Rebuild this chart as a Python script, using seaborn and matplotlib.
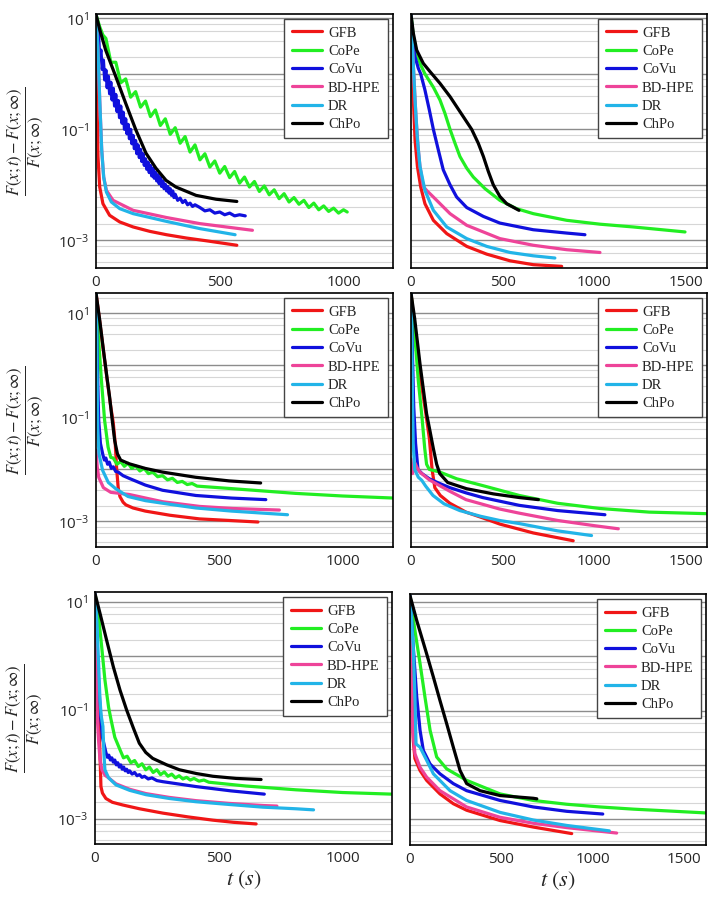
import matplotlib
matplotlib.use("Agg")
import matplotlib.pyplot as plt
import pandas as pd
import seaborn as sns
from matplotlib.lines import Line2D
from matplotlib.ticker import LogLocator, NullFormatter

sns.set_style("white")
plt.rcParams["font.family"] = ["Open Sans", "DejaVu Sans"]
plt.rcParams["mathtext.fontset"] = "stix"

methods = ["GFB", "CoPe", "CoVu", "BD-HPE", "DR", "ChPo"]
colors = ["#f01616", "#22ee22", "#1010dd", "#ee4499", "#22b4e8", "#000000"]

# values are log10 of the relative error, t in seconds
# ---- panel A (top left)
a_gfb_t = [0, 4, 8, 15, 28, 55, 96, 150, 218, 285, 366, 447, 569]
a_gfb_y = [1.07, -0.47, -1.49, -2.04, -2.34, -2.55, -2.67, -2.76, -2.84, -2.90, -2.96, -3.01, -3.09]
a_cope_t = [0, 15, 28] + list(range(40, 1001, 20)) + [1015]
a_cope_y = [1.07, 0.85, 0.70,
            0.64, 0.21, 0.21, -0.16, -0.09, -0.42, -0.32, -0.60, -0.49, -0.77,
            -0.65, -0.93, -0.81, -1.09, -0.97, -1.25, -1.13, -1.41, -1.28, -1.55,
            -1.44, -1.68, -1.57, -1.79, -1.67, -1.87, -1.76, -1.97, -1.86, -2.04,
            -1.94, -2.12, -2.02, -2.18, -2.09, -2.25, -2.16, -2.31, -2.23, -2.35,
            -2.28, -2.41, -2.33, -2.45, -2.38, -2.48, -2.42, -2.51, -2.45,
            -2.49]
a_covu_t = [0] + list(range(10, 321, 5)) + list(range(330, 401, 10)) + list(range(420, 581, 20)) + [603]
a_covu_y = [1.07,
            0.73, 0.32, 0.43, 0.08, 0.25, -0.11, 0.07, -0.25, -0.04, -0.36,
            -0.15, -0.47, -0.26, -0.58, -0.37, -0.68, -0.48, -0.79, -0.58, -0.89,
            -0.69, -1.00, -0.81, -1.08, -0.91, -1.17, -1.00, -1.26, -1.11, -1.35,
            -1.20, -1.44, -1.28, -1.51, -1.36, -1.58, -1.44, -1.65, -1.53, -1.72,
            -1.59, -1.78, -1.65, -1.84, -1.70, -1.88, -1.77, -1.93, -1.82, -1.98,
            -1.87, -2.03, -1.93, -2.07, -1.99, -2.11, -2.03, -2.15, -2.07, -2.19,
            -2.11, -2.23, -2.17,
            -2.28, -2.24, -2.32, -2.28, -2.36, -2.33, -2.39, -2.36,
            -2.41, -2.47, -2.45, -2.51, -2.49, -2.54, -2.51, -2.56, -2.54,
            -2.56]
a_bdhpe_t = [0, 8, 15, 23, 31, 42, 69, 150, 285, 420, 632]
a_bdhpe_y = [1.07, 0.43, -0.47, -1.37, -1.86, -2.10, -2.28, -2.46, -2.59, -2.70, -2.82]
a_dr_t = [0, 8, 15, 23, 31, 42, 62, 96, 150, 218, 285, 420, 562]
a_dr_y = [1.07, 0.43, -0.47, -1.37, -1.86, -2.13, -2.31, -2.43, -2.52, -2.59, -2.66, -2.79, -2.90]
a_chpo_t = [0, 15, 39, 80, 120, 161, 202, 242, 283, 323, 404, 485, 569]
a_chpo_y = [1.07, 0.80, 0.43, -0.05, -0.53, -1.01, -1.43, -1.70, -1.92, -2.04, -2.19, -2.26, -2.30]

# ---- panel B (top right)
b_gfb_t = [0, 5, 13, 22, 35, 53, 76, 122, 195, 304, 413, 540, 667, 822]
b_gfb_y = [1.07, 0.43, -0.47, -1.19, -1.67, -2.04, -2.34, -2.64, -2.88, -3.11, -3.25, -3.37, -3.44, -3.47]
b_cope_t = [0, 13, 31, 53, 76, 122, 158, 185, 213, 240, 267, 304, 340, 404, 485, 576, 667, 849, 1031, 1213, 1495]
b_cope_y = [1.07, 0.67, 0.37, 0.16, 0.0, -0.24, -0.47, -0.71, -1.0, -1.25, -1.49, -1.70, -1.86, -2.07,
            -2.28, -2.43, -2.52, -2.64, -2.71, -2.76, -2.85]
b_covu_t = [0, 9, 22, 40, 53, 76, 100, 122, 149, 176, 213, 249, 304, 395, 485, 667, 849, 949]
b_covu_y = [1.07, 0.61, 0.31, 0.10, 0.0, -0.29, -0.65, -1.0, -1.37, -1.73, -2.0, -2.22, -2.41, -2.57,
            -2.69, -2.81, -2.87, -2.90]
b_bdhpe_t = [0, 13, 27, 40, 49, 67, 85, 122, 213, 304, 485, 667, 849, 1031]
b_bdhpe_y = [1.07, 0.13, -0.77, -1.37, -1.67, -2.03, -2.10, -2.22, -2.52, -2.73, -2.97, -3.09, -3.17, -3.22]
b_dr_t = [0, 9, 22, 35, 49, 76, 122, 195, 304, 413, 540, 667, 785]
b_dr_y = [1.07, 0.43, -0.47, -1.19, -1.67, -2.10, -2.46, -2.76, -2.97, -3.11, -3.22, -3.28, -3.32]
b_chpo_t = [0, 13, 31, 67, 104, 158, 213, 267, 331, 367, 395, 422, 449, 485, 522, 589]
b_chpo_y = [1.07, 0.73, 0.43, 0.19, 0.04, -0.17, -0.41, -0.68, -1.0, -1.25, -1.49, -1.76, -2.0, -2.21, -2.34, -2.46]

# ---- panel C (middle left)
c_gfb_t = [0, 15, 30, 45, 60, 70, 78, 84, 90, 97, 110, 121, 150, 200, 300, 420, 540, 657]
c_gfb_y = [1.39, 0.85, 0.28, -0.27, -0.80, -1.10, -1.5, -2.0, -2.35, -2.52, -2.63, -2.68, -2.74, -2.80, -2.88, -2.95, -2.98, -3.01]
c_cope_t = [0, 8, 22, 35, 49, 60,
            70, 85, 100, 115, 130, 145, 160, 178, 195, 213, 230, 250, 270, 290,
            310, 330, 350, 370, 390, 410,
            555, 810, 1000, 1210]
c_cope_y = [1.39, 0.67, -0.29, -1.06, -1.57, -1.77,
            -1.78, -1.90, -1.85, -1.94, -1.88, -1.98, -1.93, -2.03, -1.98, -2.08,
            -2.05, -2.14, -2.12, -2.20, -2.17, -2.25, -2.23, -2.29, -2.27, -2.32,
            -2.37, -2.46, -2.51, -2.55]
c_covu_t = [0, 4, 8, 11, 18, 28, 34, 40, 47, 54, 62, 70, 80, 90, 110, 134, 200, 270, 405, 550, 689]
c_covu_y = [1.39, 0.35, -0.5, -1.06, -1.5, -1.72, -1.82, -1.78, -1.90, -1.86, -1.98, -1.95, -2.04, -2.05,
            -2.12, -2.17, -2.30, -2.40, -2.50, -2.55, -2.58]
c_bdhpe_t = [0, 5, 11, 30, 60, 134, 270, 420, 555, 744]
c_bdhpe_y = [-1.63, -1.95, -2.15, -2.35, -2.44, -2.48, -2.62, -2.71, -2.75, -2.78]
c_dr_t = [0, 3, 5, 7, 12, 27, 50, 80, 130, 201, 300, 405, 550, 777]
c_dr_y = [1.39, 0.5, -0.5, -1.2, -1.7, -2.02, -2.25, -2.37, -2.52, -2.60, -2.67, -2.74, -2.80, -2.87]
c_chpo_t = [0, 15, 30, 45, 55, 66, 76, 87, 100, 134, 200, 269, 404, 540, 668]
c_chpo_y = [1.39, 0.87, 0.30, -0.25, -0.60, -1.06, -1.45, -1.70, -1.82, -1.89, -1.98, -2.05, -2.15, -2.22, -2.26]

# ---- panel D (middle right)
d_gfb_t = [0, 20, 50, 80, 100, 115, 130, 160, 212, 300, 391, 485, 667, 885]
d_gfb_y = [1.39, 0.7, -0.2, -0.9, -1.4, -2.0, -2.35, -2.5, -2.65, -2.82, -2.93, -3.05, -3.22, -3.37]
d_cope_t = [0, 20, 40, 60, 75, 85, 100, 157, 250, 391, 591, 800, 1031, 1300, 1616]
d_cope_y = [1.39, 0.6, -0.3, -1.0, -1.6, -1.9, -2.0, -2.05, -2.18, -2.31, -2.50, -2.65, -2.75, -2.82, -2.85]
d_covu_t = [0, 8, 15, 25, 38, 60, 100, 150, 212, 300, 391, 591, 800, 1058]
d_covu_y = [1.39, 0.2, -0.8, -1.5, -2.0, -2.08, -2.18, -2.26, -2.35, -2.45, -2.54, -2.69, -2.79, -2.87]
d_bdhpe_t = [0, 8, 15, 22, 35, 49, 100, 212, 300, 483, 591, 800, 1000, 1131]
d_bdhpe_y = [-1.80, -2.08, -2.0, -1.88, -1.98, -2.05, -2.2, -2.42, -2.58, -2.76, -2.84, -2.98, -3.08, -3.14]
d_dr_t = [0, 3, 6, 9, 12, 20, 40, 59, 80, 120, 180, 266, 380, 483, 591, 800, 985]
d_dr_y = [1.39, 0.8, 0.0, -0.8, -1.5, -2.0, -2.15, -2.21, -2.32, -2.50, -2.66, -2.79, -2.90, -2.98, -3.04, -3.18, -3.27]
d_chpo_t = [0, 20, 49, 85, 103, 122, 140, 157, 200, 303, 450, 591, 695]
d_chpo_y = [1.39, 0.9, 0.03, -0.93, -1.25, -1.6, -1.9, -2.08, -2.25, -2.37, -2.47, -2.54, -2.58]

# ---- panel E (bottom left)
e_gfb_t = [0, 4, 8, 12, 17, 20, 24, 30, 44, 70, 112, 180, 274, 376, 476, 560, 651]
e_gfb_y = [1.15, 0.5, -0.2, -0.7, -1.18, -1.8, -2.41, -2.53, -2.63, -2.70, -2.75, -2.82, -2.90, -2.97, -3.03, -3.07, -3.10]
e_cope_t = [0, 13, 27, 40, 55, 65, 80] + list(range(100, 401, 15)) + [420, 440, 460, 610, 812, 1000, 1200]
e_cope_y = [1.15, 0.79, 0.17, -0.44, -0.95, -1.18, -1.5,
            -1.72, -1.88, -1.85, -1.97, -1.93, -2.04, -1.99, -2.10, -2.05, -2.15,
            -2.10, -2.19, -2.14, -2.22, -2.18, -2.25, -2.21, -2.27, -2.24, -2.29, -2.26,
            -2.31, -2.29, -2.33, -2.40, -2.47, -2.52, -2.55]
e_covu_t = [0, 5, 10, 15, 20, 24, 30] + list(range(44, 141, 6)) + list(range(150, 201, 10)) + [215, 230, 250, 274, 408, 550, 684]
e_covu_y = [1.15, 0.6, 0.0, -0.5, -0.9, -1.18, -1.5,
            -1.78, -1.87, -1.83, -1.92, -1.88, -1.96, -1.92, -2.01, -1.97, -2.05,
            -2.01, -2.09, -2.05, -2.12, -2.09, -2.15, -2.12,
            -2.18, -2.15, -2.21, -2.19, -2.24, -2.22,
            -2.27, -2.25, -2.30, -2.32, -2.41, -2.49, -2.55]
e_bdhpe_t = [0, 3, 6, 10, 15, 20, 28, 40, 55, 85, 140, 206, 300, 408, 540, 680, 735]
e_bdhpe_y = [1.15, 0.3, -0.5, -1.2, -1.6, -1.9, -2.1, -2.2, -2.25, -2.36, -2.46, -2.54, -2.61, -2.67, -2.72, -2.76, -2.77]
e_dr_t = [0, 8, 15, 20, 25, 32, 36, 40, 55, 85, 140, 206, 300, 408, 540, 678, 812, 883]
e_dr_y = [1.15, 0.6, -0.2, -0.8, -1.1, -1.3, -1.8, -2.1, -2.25, -2.38, -2.48, -2.56, -2.63, -2.69, -2.74, -2.79, -2.82, -2.84]
e_chpo_t = [0, 20, 47, 74, 101, 128, 155, 179, 205, 233, 290, 341, 410, 476, 570, 671]
e_chpo_y = [1.15, 0.79, 0.29, -0.20, -0.63, -1.00, -1.33, -1.61, -1.78, -1.89, -2.01, -2.10, -2.17, -2.22, -2.26, -2.28]

# ---- panel F (bottom right)
f_gfb_t = [0, 9, 18, 27, 55, 91, 164, 237, 310, 493, 675, 885]
f_gfb_y = [1.12, -0.44, -1.55, -1.88, -2.10, -2.28, -2.53, -2.71, -2.83, -3.02, -3.14, -3.26]
f_cope_t = [0, 27, 55, 82, 110, 146, 201, 310, 493, 675, 858, 1040, 1223, 1621]
f_cope_y = [1.12, 0.48, -0.13, -0.75, -1.36, -1.85, -2.07, -2.28, -2.53, -2.65, -2.72, -2.77, -2.81, -2.88]
f_covu_t = [0, 18, 37, 55, 73, 110, 164, 237, 310, 493, 675, 858, 1055]
f_covu_y = [1.12, 0.17, -0.75, -1.36, -1.73, -1.98, -2.16, -2.34, -2.47, -2.65, -2.77, -2.85, -2.90]
f_bdhpe_t = [0, 5, 15, 27, 55, 91, 164, 310, 493, 675, 858, 1131]
f_bdhpe_y = [1.12, -0.13, -1.36, -1.79, -2.04, -2.22, -2.47, -2.77, -2.96, -3.07, -3.15, -3.25]
f_dr_t = [0, 18, 27, 33, 55, 91, 128, 219, 310, 493, 675, 858, 1091]
f_dr_y = [1.12, 0.17, -0.75, -1.61, -1.67, -1.91, -2.16, -2.47, -2.65, -2.87, -3.01, -3.11, -3.21]
f_chpo_t = [0, 37, 91, 128, 164, 201, 237, 274, 310, 383, 493, 675, 694]
f_chpo_y = [1.12, 0.66, 0.05, -0.38, -0.81, -1.24, -1.67, -2.10, -2.34, -2.47, -2.56, -2.61, -2.62]

panels = [
    # series, box in px (left, top, right, bottom), xmax, log ylim, xticks, left col, bottom row
    ([(a_gfb_t, a_gfb_y), (a_cope_t, a_cope_y), (a_covu_t, a_covu_y),
      (a_bdhpe_t, a_bdhpe_y), (a_dr_t, a_dr_y), (a_chpo_t, a_chpo_y)],
     (96, 14, 393, 268), 1200, (-3.5, 1.08), [0, 500, 1000], True, False),
    ([(b_gfb_t, b_gfb_y), (b_cope_t, b_cope_y), (b_covu_t, b_covu_y),
      (b_bdhpe_t, b_bdhpe_y), (b_dr_t, b_dr_y), (b_chpo_t, b_chpo_y)],
     (411, 14, 707, 268), 1615, (-3.5, 1.08), [0, 500, 1000, 1500], False, False),
    ([(c_gfb_t, c_gfb_y), (c_cope_t, c_cope_y), (c_covu_t, c_covu_y),
      (c_bdhpe_t, c_bdhpe_y), (c_dr_t, c_dr_y), (c_chpo_t, c_chpo_y)],
     (96, 293, 393, 547), 1205, (-3.49, 1.39), [0, 500, 1000], True, False),
    ([(d_gfb_t, d_gfb_y), (d_cope_t, d_cope_y), (d_covu_t, d_covu_y),
      (d_bdhpe_t, d_bdhpe_y), (d_dr_t, d_dr_y), (d_chpo_t, d_chpo_y)],
     (411, 293, 707, 547), 1615, (-3.49, 1.39), [0, 500, 1000, 1500], False, False),
    ([(e_gfb_t, e_gfb_y), (e_cope_t, e_cope_y), (e_covu_t, e_covu_y),
      (e_bdhpe_t, e_bdhpe_y), (e_dr_t, e_dr_y), (e_chpo_t, e_chpo_y)],
     (95, 592, 392, 844), 1200, (-3.47, 1.18), [0, 500, 1000], True, True),
    ([(f_gfb_t, f_gfb_y), (f_cope_t, f_cope_y), (f_covu_t, f_covu_y),
      (f_bdhpe_t, f_bdhpe_y), (f_dr_t, f_dr_y), (f_chpo_t, f_chpo_y)],
     (410, 594, 706, 845), 1620, (-3.47, 1.15), [0, 500, 1000, 1500], False, True),
]

W, H = 713, 907
fig = plt.figure(figsize=(W / 100, H / 100), dpi=100)

ylab = r"$\dfrac{F(x;t)-F(x;\infty)}{F(x;\infty)}$"
yt = [1e-3, 1e-2, 1e-1, 1, 10]
ytl = [r"$\mathregular{10^{-3}}$", "", r"$\mathregular{10^{-1}}$", "", r"$\mathregular{10^{1}}$"]

for series, box, xmax, ylim, xt, left, bottom in panels:
    l, t, r, b = box
    ax = fig.add_axes([l / W, 1 - b / H, (r - l) / W, (b - t) / H])

    rows = []
    for m, (ts, ys) in zip(methods, series):
        for ti, yi in zip(ts, ys):
            rows.append((m, ti, 10 ** yi))
    df = pd.DataFrame(rows, columns=["method", "t", "err"])

    sns.lineplot(data=df, x="t", y="err", hue="method", hue_order=methods,
                 palette=colors, estimator=None, sort=False, linewidth=2.3,
                 legend=False, ax=ax)

    ax.set_yscale("log")
    ax.set_xlim(0, xmax)
    ax.set_ylim(10 ** ylim[0], 10 ** ylim[1])
    ax.set_xticks(xt)
    ax.set_xticklabels([str(v) for v in xt], fontsize=11)
    ax.set_yticks(yt)
    if left:
        ax.set_yticklabels(ytl, fontsize=11)
        ax.set_ylabel(ylab, fontsize=12)
        ax.yaxis.set_label_coords(-0.172, 0.5)
    else:
        ax.set_yticklabels([""] * len(yt))
        ax.set_ylabel("")
    ax.yaxis.set_minor_locator(LogLocator(base=10, subs=(2, 4, 6, 8), numticks=50))
    ax.yaxis.set_minor_formatter(NullFormatter())
    ax.tick_params(which="both", length=0, pad=5)
    ax.grid(True, which="major", axis="y", color="#8c8c8c", lw=1.0)
    ax.grid(True, which="minor", axis="y", color="#d6d6d6", lw=0.8)
    ax.grid(False, axis="x")
    ax.set_axisbelow(True)
    for s in ax.spines.values():
        s.set_color("black")
        s.set_linewidth(1.2)

    if bottom:
        ax.set_xlabel(r"$t\ (s)$", fontsize=16, labelpad=2)
    else:
        ax.set_xlabel("")

    handles = [Line2D([0], [0], color=c, lw=2.3) for c in colors]
    leg = ax.legend(handles, methods, loc="upper right",
                    prop={"family": "Liberation Serif", "size": 10.5},
                    frameon=True, fancybox=False, framealpha=1,
                    edgecolor="#444444", borderaxespad=0.35,
                    handlelength=2.1, handletextpad=0.4,
                    labelspacing=0.35, borderpad=0.5)
    leg.get_frame().set_linewidth(1.0)

fig.savefig("out.png", dpi=100)
